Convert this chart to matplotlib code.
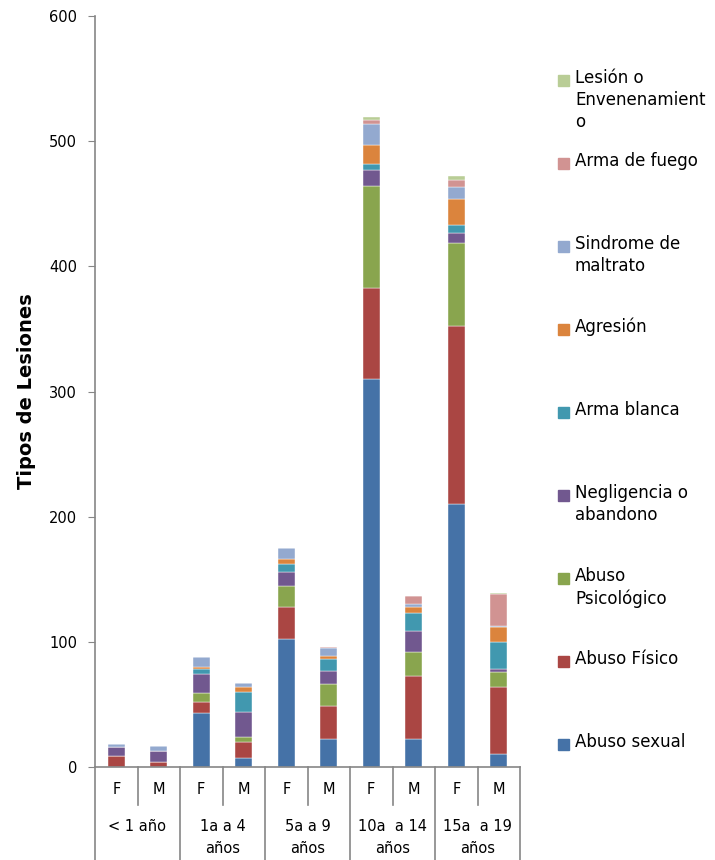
import numpy as np
import matplotlib
matplotlib.use('Agg')
import matplotlib.pyplot as plt
from matplotlib.patches import Rectangle
import matplotlib.transforms as mtransforms

# categories
sexo = ['F', 'M'] * 5
grupos = ['< 1 año', '1a a 4\naños', '5a a 9\naños', '10a  a 14\naños', '15a  a 19\naños']

# series (one value per bar, order: <1 F, <1 M, 1-4 F, 1-4 M, ...)
abuso_sexual = [0, 0, 43, 7, 102, 22, 310, 22, 210, 10]
abuso_fisico = [9, 4, 9, 13, 26, 27, 73, 51, 142, 54]
abuso_psicologico = [0, 0, 7, 4, 17, 17, 81, 19, 67, 12]
negligencia = [7, 9, 15, 20, 11, 11, 13, 17, 8, 2]
arma_blanca = [0, 0, 4, 16, 6, 9, 5, 14, 6, 22]
agresion = [0, 0, 2, 4, 4, 3, 15, 5, 21, 12]
sindrome = [2, 4, 8, 3, 9, 6, 17, 2, 9, 1]
arma_fuego = [0, 0, 0, 0, 0, 1, 3, 7, 6, 25]
lesion = [0, 0, 0, 0, 0, 0, 2, 0, 3, 1]

series = [
    ('Abuso sexual', abuso_sexual, '#4572A7'),
    ('Abuso Físico', abuso_fisico, '#AA4643'),
    ('Abuso\nPsicológico', abuso_psicologico, '#89A54E'),
    ('Negligencia o\nabandono', negligencia, '#71588F'),
    ('Arma blanca', arma_blanca, '#4198AF'),
    ('Agresión', agresion, '#DB843D'),
    ('Sindrome de\nmaltrato', sindrome, '#93A9CF'),
    ('Arma de fuego', arma_fuego, '#D19392'),
    ('Lesión o\nEnvenenamient\no', lesion, '#B9CD96'),
]

W, H = 715, 860
fig = plt.figure(figsize=(W / 100, H / 100), dpi=100)
ax = fig.add_axes([95 / W, (H - 767) / H, 425 / W, 751 / H])

grey = '#868686'
x = np.arange(len(sexo))
bottom = np.zeros(len(sexo))
for name, vals, col in series:
    ax.bar(x, vals, width=0.41, bottom=bottom, color=col,
           edgecolor='white', linewidth=0.3)
    bottom += np.array(vals)

ax.set_xlim(-0.5, len(sexo) - 0.5)
ax.set_ylim(0, 600)
ax.set_yticks(range(0, 601, 100))
ax.tick_params(axis='y', direction='out', length=5, color=grey,
               labelsize=10.5, pad=8)
ax.set_xticks([])
for s in ['top', 'right']:
    ax.spines[s].set_visible(False)
for s in ['left', 'bottom']:
    ax.spines[s].set_color(grey)
    ax.spines[s].set_linewidth(1.2)

ax.set_ylabel('Tipos de Lesiones', fontsize=14, fontweight='bold', labelpad=9)

# multi-level category axis
trans = mtransforms.blended_transform_factory(ax.transData, ax.transAxes)
short = -38 / 751
full = -93 / 751
for i in range(len(sexo) + 1):
    xs = i - 0.5
    y1 = full if i % 2 == 0 else short
    ax.plot([xs, xs], [0, y1], color=grey, lw=1.2, transform=trans,
            clip_on=False)
for i, s in enumerate(sexo):
    ax.text(i, -23 / 751, s, transform=trans, ha='center', va='center',
            fontsize=10.5)
for g, name in enumerate(grupos):
    ax.text(2 * g + 0.5, -52 / 751, name, transform=trans, ha='center',
            va='top', fontsize=10.5, linespacing=1.55)

# legend, entries spread evenly as in the original
for k, (name, vals, col) in enumerate(series[::-1]):
    ypix = 80 + 83 * k
    fig.patches.append(Rectangle((558 / W, 1 - (ypix + 6) / H), 11 / W, 11 / H,
                                 transform=fig.transFigure, color=col))
    fig.text(575 / W, 1 - (ypix - 11) / H, name, ha='left', va='top',
             fontsize=12, linespacing=1.3)

fig.savefig('out.png', dpi=100)
